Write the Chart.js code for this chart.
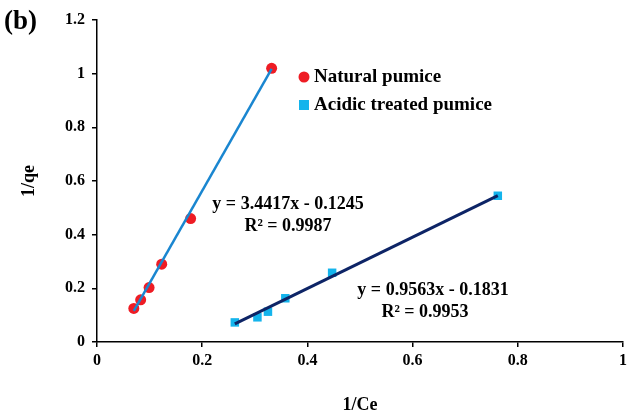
<!DOCTYPE html>
<html>
<head>
<meta charset="utf-8">
<script src="https://cdn.jsdelivr.net/npm/chart.js@4.4.1/dist/chart.umd.min.js"></script>
<style>
  html, body { margin: 0; padding: 0; background: #fff; }
  #wrap { width: 634px; height: 416px; }
</style>
</head>
<body>
<div id="wrap"><canvas id="langmuirChart" width="634" height="416"></canvas></div>
<script>
// Series (1/Ce vs 1/qe)
const seriesNames = ["Natural pumice", "Acidic treated pumice"];

const naturalX = [0.070, 0.083, 0.099, 0.123, 0.178, 0.332];
const naturalY = [0.125, 0.157, 0.203, 0.290, 0.460, 1.020];

const acidX = [0.262, 0.305, 0.325, 0.358, 0.447, 0.762];
const acidY = [0.073, 0.092, 0.113, 0.163, 0.258, 0.545];

// Linear trendlines as printed on the chart
const slopes = [3.4417, 0.9563];
const intercepts = [-0.1245, -0.1831];
const fitLabels = [
    ["y = 3.4417x - 0.1245", "R² = 0.9987"],
    ["y = 0.9563x - 0.1831", "R² = 0.9953"]
];

const xTicks = [0, 0.2, 0.4, 0.6, 0.8, 1];
const yTicks = [0, 0.2, 0.4, 0.6, 0.8, 1, 1.2];

const pointColors = ['#ee1c24', '#14b4ec'];
const lineColors = ['#1a86d0', '#0d2466'];

const serif = "'Liberation Serif', 'Times New Roman', serif";

function toPoints(xs, ys) {
    return xs.map((x, i) => ({ x: x, y: ys[i] }));
}

// trendline from first to last x of each series
function fitLine(xs, k) {
    const x0 = xs[0], x1 = xs[xs.length - 1];
    return [
        { x: x0, y: slopes[k] * x0 + intercepts[k] },
        { x: x1, y: slopes[k] * x1 + intercepts[k] }
    ];
}

// legend, equations and panel letter
const extrasPlugin = {
    id: 'extras',
    afterDraw(chart) {
        const ctx = chart.ctx;
        ctx.save();
        ctx.fillStyle = '#000';
        ctx.textBaseline = 'middle';

        // (b)
        ctx.font = "bold 27px " + serif;
        ctx.textAlign = 'left';
        ctx.fillText('(b)', 4, 22);

        // legend
        ctx.font = "bold 19px " + serif;
        ctx.fillStyle = pointColors[0];
        ctx.beginPath();
        ctx.arc(304, 77, 5.5, 0, Math.PI * 2);
        ctx.fill();
        ctx.fillStyle = pointColors[1];
        ctx.fillRect(299, 100, 10, 10);
        ctx.fillStyle = '#000';
        ctx.fillText(seriesNames[0], 314, 77);
        ctx.fillText(seriesNames[1], 314, 105);

        // equations
        ctx.font = "bold 18px " + serif;
        ctx.textAlign = 'center';
        ctx.fillText(fitLabels[0][0], 288, 204);
        ctx.fillText(fitLabels[0][1], 288, 226);
        ctx.fillText(fitLabels[1][0], 433, 290);
        ctx.fillText(fitLabels[1][1], 425, 312);
        ctx.restore();
    }
};

const ctxChart = document.getElementById('langmuirChart').getContext('2d');

const langmuirChart = new Chart(ctxChart, {
    type: 'scatter',
    data: {
        datasets: [
            {
                label: 'Natural fit',
                data: fitLine(naturalX, 0),
                showLine: true,
                borderColor: lineColors[0],
                borderWidth: 2.5,
                pointRadius: 0,
                order: 2
            },
            {
                label: 'Acidic fit',
                data: fitLine(acidX, 1),
                showLine: true,
                borderColor: lineColors[1],
                borderWidth: 3,
                pointRadius: 0,
                order: 2
            },
            {
                label: seriesNames[0],
                data: toPoints(naturalX, naturalY),
                pointStyle: 'circle',
                pointRadius: 5.5,
                backgroundColor: pointColors[0],
                borderColor: pointColors[0],
                borderWidth: 0,
                order: 3
            },
            {
                label: seriesNames[1],
                data: toPoints(acidX, acidY),
                pointStyle: 'rect',
                pointRadius: 6,
                backgroundColor: pointColors[1],
                borderColor: pointColors[1],
                borderWidth: 0,
                order: 3
            }
        ]
    },
    options: {
        responsive: false,
        animation: false,
        layout: { padding: { left: 0, right: 11, top: 20, bottom: 0 } },
        scales: {
            x: {
                type: 'linear',
                min: 0,
                max: 1,
                afterBuildTicks: s => { s.ticks = xTicks.map(v => ({ value: v })); },
                afterFit: s => { s.height = 74; },
                ticks: {
                    color: '#000',
                    padding: 4,
                    font: { family: serif, size: 16, weight: 'bold' },
                    callback: v => String(+v.toFixed(1))
                },
                grid: { drawOnChartArea: false, drawTicks: true, tickLength: 5, color: '#000', lineWidth: 1.5 },
                border: { color: '#000', width: 1.5 },
                title: {
                    display: true,
                    text: '1/Ce',
                    color: '#000',
                    font: { family: serif, size: 18, weight: 'bold' },
                    padding: { top: 0, bottom: 0 }
                }
            },
            y: {
                type: 'linear',
                min: 0,
                max: 1.2,
                afterBuildTicks: s => { s.ticks = yTicks.map(v => ({ value: v })); },
                afterFit: s => { s.width = 97; },
                ticks: {
                    color: '#000',
                    padding: 7,
                    font: { family: serif, size: 16, weight: 'bold' },
                    callback: v => String(+v.toFixed(1))
                },
                grid: { drawOnChartArea: false, drawTicks: true, tickLength: 5, color: '#000', lineWidth: 1.5 },
                border: { color: '#000', width: 1.5 },
                title: {
                    display: true,
                    text: '1/qe',
                    color: '#000',
                    font: { family: serif, size: 18, weight: 'bold' },
                    padding: { top: 19, bottom: 0 }
                }
            }
        },
        plugins: {
            legend: { display: false },
            tooltip: { enabled: false }
        }
    },
    plugins: [extrasPlugin]
});
</script>
</body>
</html>
